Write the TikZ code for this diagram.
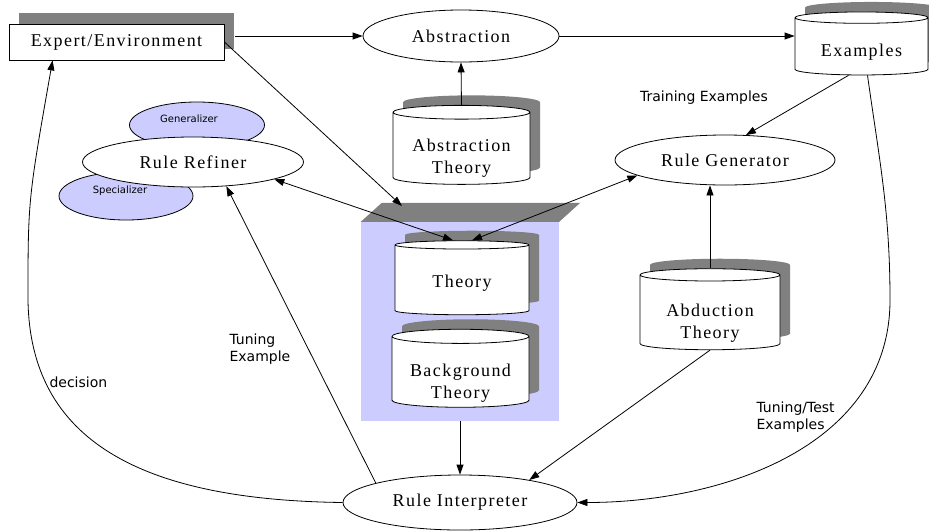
\documentclass[tikz,border=0pt]{standalone}
\usepackage{fontspec}
\setmainfont{Liberation Serif}[LetterSpace=8]
\newfontfamily\labelfont{DejaVu Sans}
\usetikzlibrary{shapes.geometric,arrows.meta,shadows}

\definecolor{panelblue}{HTML}{CCCCFF}
\definecolor{shadowgray}{HTML}{808080}

% text of a store sits on its front face, a little below the middle
\newcommand{\facetext}[2]{\raisebox{-#1}[\height][\depth]{\begin{tabular}{@{}c@{}}#2\end{tabular}}}

\tikzset{
  every node/.style={font=\fontsize{18}{22}\selectfont},
  proc/.style={ellipse, draw, fill=white, line width=0.8pt, inner sep=0pt},
  store/.style={cylinder, shape border rotate=90, aspect=0.14, draw, fill=white,
    line width=0.8pt, inner sep=0pt, align=center,
    drop shadow={shadow xshift=10pt, shadow yshift=10pt, fill=shadowgray, opacity=1}},
  blob/.style={ellipse, draw, fill=panelblue, line width=0.8pt},
  flow/.style={-{Triangle[length=10pt,width=7pt]}, line width=0.8pt},
  twoway/.style={{Triangle[length=10pt,width=7pt]}-{Triangle[length=10pt,width=7pt]}, line width=0.8pt},
  note/.style={font=\labelfont\fontsize{14}{17}\selectfont, align=left},
  tiny/.style={font=\labelfont\fontsize{10}{12}\selectfont},
}

\begin{document}
\begin{tikzpicture}[x=1pt,y=-1pt]
  \useasboundingbox (0,0) rectangle (929,531);

  % knowledge base panel with its grey top face
  \node[fill=panelblue, minimum width=198pt, minimum height=199pt, inner sep=0pt] (panel) at (460,321.5) {};
  \fill[shadowgray] (panel.north west) -- ++(21,-19) -- ([shift={(21,-19)}]panel.north east) -- (panel.north east) -- cycle;
  \coordinate (kbtop) at (402,206);

  % the user side
  \node[draw, fill=white, line width=0.8pt, minimum width=215pt, minimum height=36pt, inner sep=0pt,
        drop shadow={shadow xshift=10pt, shadow yshift=11pt, fill=shadowgray, opacity=1}] (expert) at (116.5,42) {Expert/Environment};

  % processes
  \node[proc, minimum width=196pt, minimum height=52pt] (abstr) at (461,36) {Abstraction};
  \node[blob, minimum width=135pt, minimum height=46pt] (gen) at (197,125) {};
  \node[blob, minimum width=134pt, minimum height=48pt] (spec) at (126,196) {};
  \node[tiny] at (189,119) {Generalizer};
  \node[tiny] at (120,191) {Specializer};
  \node[proc, minimum width=221pt, minimum height=50pt] (refiner) at (193,162) {Rule Refiner};
  \node[proc, minimum width=220pt, minimum height=50pt] (rulegen) at (725,160) {Rule Generator};
  \node[proc, minimum width=234pt, minimum height=55pt] (interp) at (460,502.5) {Rule Interpreter};

  % stores
  \node[store, minimum width=137pt, minimum height=79pt] (absth) at (461.5,148.5) {\facetext{10pt}{Abstraction\\Theory}};
  \node[store, minimum width=133pt, minimum height=63pt] (examples) at (861.5,46.5) {\facetext{6pt}{Examples}};
  \node[store, minimum width=134pt, minimum height=74pt] (theory) at (462,280) {\facetext{3pt}{Theory}};
  \node[store, minimum width=137pt, minimum height=78pt] (bgth) at (460.5,372) {\facetext{11pt}{Background\\Theory}};
  \node[store, minimum width=140pt, minimum height=81pt] (abduct) at (710,312.5) {\facetext{11pt}{Abduction\\Theory}};

  % edge labels
  \node[note] (lbltrain) at (704,98) {Training Examples};
  \node[note, anchor=west] (lbltune) at (226,349) {Tuning\\Example};
  \node[note, anchor=west] (lbldec) at (46,382) {decision};
  \node[note, anchor=west] (lbltest) at (753,417) {Tuning/Test\\Examples};

  % connectors
  \draw[flow] ([xshift=11pt]expert.east |- abstr.west) -- (abstr.west);
  \draw[flow] (abstr.east) -- (abstr.east -| examples.west);
  \draw[flow] (absth.north) -- (abstr.south);
  \draw[flow] (expert.east) -- (kbtop);
  \draw[twoway] (refiner.-12) -- ([xshift=-9pt]theory.north);
  \draw[twoway] (rulegen.190) -- ([xshift=10pt]theory.north);
  \draw[flow] ([xshift=-13pt]examples.south) -- (rulegen.50);
  \draw[flow] (abduct.north) -- (abduct.north |- rulegen.south);
  \draw[flow] (panel.south) -- (interp.north);
  \draw[flow] (abduct.south) -- (interp.18);
  \draw[flow] ([xshift=6pt]examples.south) to[out=-82,in=90] (890,300) to[out=-90,in=0] (interp.east);
  \draw[flow] (interp.167) -- (refiner.-36);
  \draw[flow] (interp.west) .. controls (140,500) and (30,440) .. (28,300)
                            .. controls (28,200) .. ([xshift=44pt]expert.south west);
\end{tikzpicture}
\end{document}
